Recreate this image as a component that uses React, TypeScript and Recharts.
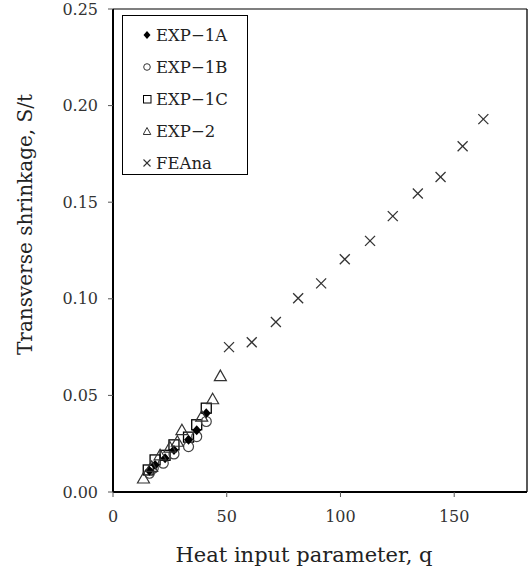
import React from "react"
import { ScatterChart, Scatter, XAxis, YAxis, ReferenceLine } from "recharts"

// EXP-1A (filled diamonds)
const exp1aQ = [16, 18.5, 22.9, 26.8, 33.2, 36.8, 41]
const exp1aS = [0.011, 0.014, 0.0175, 0.0218, 0.027, 0.032, 0.0408]

// EXP-1B (open circles)
const exp1bQ = [16, 17.7, 22.1, 26.8, 33.2, 36.8, 41]
const exp1bS = [0.0097, 0.0123, 0.0149, 0.0197, 0.0235, 0.0287, 0.0365]

// EXP-1C (open squares)
const exp1cQ = [15.5, 18.5, 22.9, 26.8, 33.2, 36.8, 41]
const exp1cS = [0.0114, 0.0166, 0.019, 0.0244, 0.0284, 0.0348, 0.0434]

// EXP-2 (open triangles)
const exp2Q = [13.4, 17, 20.7, 25, 28.3, 30.3, 39, 43.8, 47.2]
const exp2S = [0.007, 0.013, 0.019, 0.023, 0.026, 0.032, 0.039, 0.048, 0.06]

// FEAna (crosses)
const feQ = [51, 61, 71.6, 81.4, 91.5, 101.9, 113, 123, 134, 144, 153.7, 162.8]
const feS = [0.075, 0.0775, 0.088, 0.1003, 0.108, 0.1205, 0.13, 0.1428, 0.1545, 0.163, 0.179, 0.193]

const xTicks = [0, 50, 100, 150]
const yTicks = [0, 0.05, 0.1, 0.15, 0.2, 0.25]

const toRows = (q: number[], s: number[]) => q.map((x, i) => ({ q: x, s: s[i] }))

const FONT = "'DejaVu Serif', serif"

const Diamond = ({ cx, cy }: any) => (
  <polygon points={`${cx},${cy - 5} ${cx + 4.5},${cy} ${cx},${cy + 5} ${cx - 4.5},${cy}`} fill="#000" />
)
const Circle = ({ cx, cy }: any) => <circle cx={cx} cy={cy} r={5} fill="none" stroke="#444" strokeWidth={1.2} />
const Square = ({ cx, cy }: any) => (
  <rect x={cx - 5} y={cy - 5} width={10} height={10} fill="none" stroke="#000" strokeWidth={1.3} />
)
const Triangle = ({ cx, cy }: any) => (
  <polygon points={`${cx},${cy - 6} ${cx + 6},${cy + 4.5} ${cx - 6},${cy + 4.5}`} fill="none" stroke="#333" strokeWidth={1.2} />
)
const Cross = ({ cx, cy }: any) => (
  <g stroke="#333" strokeWidth={1.3}>
    <line x1={cx - 5} y1={cy - 5} x2={cx + 5} y2={cy + 5} />
    <line x1={cx - 5} y1={cy + 5} x2={cx + 5} y2={cy - 5} />
  </g>
)

const legendItems = [
  { name: "EXP\u22121A", icon: <polygon points="4,0 7.5,4 4,8 0.5,4" fill="#000" /> },
  { name: "EXP\u22121B", icon: <circle cx={4} cy={4} r={3.3} fill="none" stroke="#333" strokeWidth={1} /> },
  { name: "EXP\u22121C", icon: <rect x={0.5} y={0.5} width={7.5} height={7.5} fill="none" stroke="#000" strokeWidth={1} /> },
  { name: "EXP\u22122", icon: <polygon points="4,0.5 7.8,7.5 0.2,7.5" fill="none" stroke="#333" strokeWidth={1} /> },
  {
    name: "FEAna",
    icon: (
      <g stroke="#333" strokeWidth={1.1}>
        <line x1={0.5} y1={0.5} x2={7.5} y2={7.5} />
        <line x1={0.5} y1={7.5} x2={7.5} y2={0.5} />
      </g>
    ),
  },
]

const LegendBox = () => (
  <div
    style={{
      position: "absolute",
      left: 122,
      top: 15,
      width: 126,
      height: 160,
      border: "1px solid #000",
      background: "#fff",
      boxSizing: "border-box",
      paddingTop: 3,
      paddingLeft: 20,
      fontFamily: FONT,
      fontSize: 16.5,
      color: "#222",
    }}
  >
    {legendItems.map((it) => (
      <div key={it.name} style={{ height: 32, display: "flex", alignItems: "center" }}>
        <svg width={9} height={9} style={{ marginRight: 4 }}>{it.icon}</svg>
        <span>{it.name}</span>
      </div>
    ))}
  </div>
)

export default function App() {
  const tickStyle = { fontFamily: FONT, fontSize: 16, fill: "#333" }
  return (
    <div style={{ position: "absolute", top: 0, left: 0, width: 529, height: 567, background: "#fff" }}>
      <ScatterChart width={529} height={567} margin={{ top: 9, right: 2, left: 0, bottom: 0 }}>
        <XAxis
          type="number"
          dataKey="q"
          domain={[0, 182]}
          ticks={xTicks}
          allowDataOverflow
          height={75}
          tickSize={5}
          tickMargin={14}
          tick={tickStyle}
          axisLine={{ stroke: "#000", strokeWidth: 2 }}
          tickLine={{ stroke: "#555" }}
          label={(props: any) => {
            const vb = props.viewBox
            return (
              <text x={vb.x + vb.width / 2 - 16} y={562} textAnchor="middle" fontFamily={FONT} fontSize={21} fill="#222">
                Heat input parameter, q
              </text>
            )
          }}
        />
        <YAxis
          type="number"
          dataKey="s"
          domain={[0, 0.25]}
          ticks={yTicks}
          width={113}
          tickSize={5}
          tickMargin={10}
          tick={tickStyle}
          tickFormatter={(v: number) => v.toFixed(2)}
          axisLine={{ stroke: "#000", strokeWidth: 2 }}
          tickLine={{ stroke: "#555" }}
          label={(props: any) => {
            const vb = props.viewBox
            const cy = vb.y + vb.height / 2 - 26
            return (
              <text
                x={25}
                y={cy}
                transform={`rotate(-90, 25, ${cy})`}
                textAnchor="middle"
                dominantBaseline="central"
                fontFamily={FONT}
                fontSize={20}
                fill="#222"
              >
                Transverse shrinkage, S/t
              </text>
            )
          }}
        />
        <ReferenceLine y={0.25} stroke="#000" strokeWidth={1.2} />
        <ReferenceLine x={182} stroke="#000" strokeWidth={1.3} />
        <Scatter name="EXP-1C" data={toRows(exp1cQ, exp1cS)} shape={<Square />} isAnimationActive={false} />
        <Scatter name="EXP-1B" data={toRows(exp1bQ, exp1bS)} shape={<Circle />} isAnimationActive={false} />
        <Scatter name="EXP-1A" data={toRows(exp1aQ, exp1aS)} shape={<Diamond />} isAnimationActive={false} />
        <Scatter name="EXP-2" data={toRows(exp2Q, exp2S)} shape={<Triangle />} isAnimationActive={false} />
        <Scatter name="FEAna" data={toRows(feQ, feS)} shape={<Cross />} isAnimationActive={false} />
      </ScatterChart>
      <LegendBox />
    </div>
  )
}
